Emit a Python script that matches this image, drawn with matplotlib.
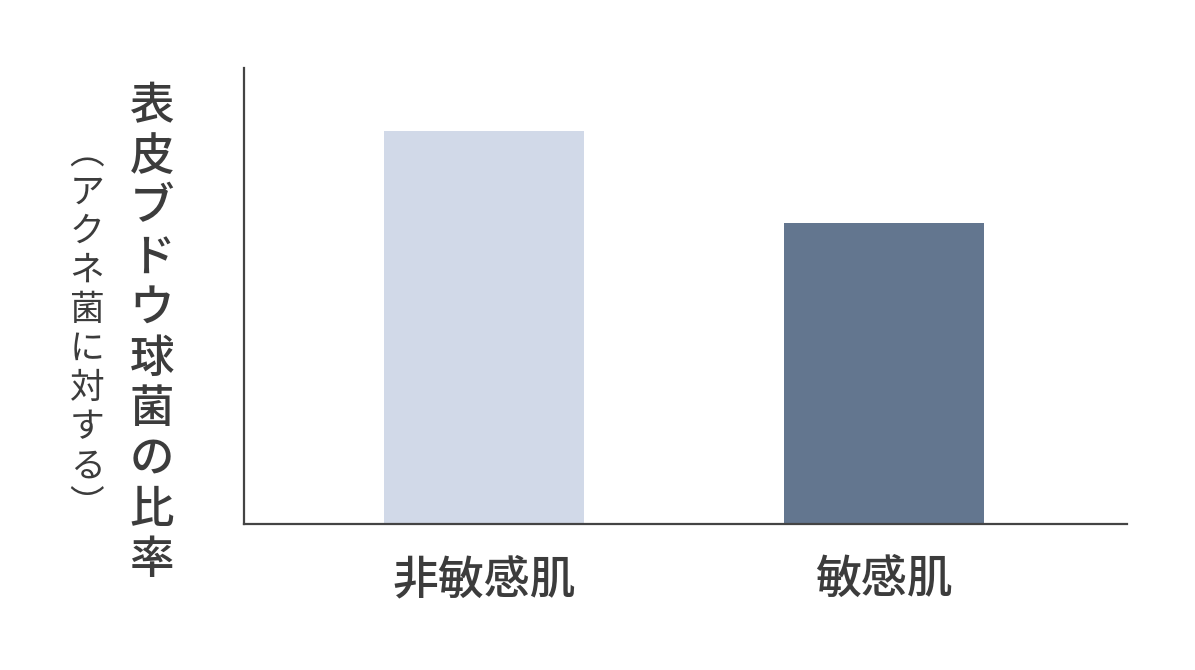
import matplotlib
matplotlib.use("Agg")
import matplotlib.pyplot as plt

plt.rcParams['font.family'] = ['Noto Sans CJK JP', 'DejaVu Sans']

# data
categories = ["非敏感肌", "敏感肌"]
values = [0.862, 0.660]
bar_colors = ["#d1d9e8", "#63768f"]
ylabel_main = "表皮ブドウ球菌の比率"
ylabel_sub = "︵アクネ菌に対する︶"

W, H = 1195, 670
text_color = "#3c3c3c"

fig = plt.figure(figsize=(W / 100, H / 100), dpi=100)
ax = fig.add_axes([244 / W, 1 - 524 / H, (1127 - 244) / W, (524 - 68) / H])

x = list(range(len(categories)))
ax.bar(x, values, width=0.5, color=bar_colors, zorder=1)
ax.set_xlim(-0.6, 1.6075)
ax.set_ylim(0, 1)

for side in ["top", "right"]:
    ax.spines[side].set_visible(False)
for side in ["left", "bottom"]:
    ax.spines[side].set_color("#444444")
    ax.spines[side].set_linewidth(1.6)
    ax.spines[side].set_zorder(3)

ax.set_yticks([])
ax.set_xticks(x)
ax.set_xticklabels(categories, fontsize=33, fontweight=500, color=text_color)
ax.tick_params(axis="x", length=0, pad=23)

# vertical y-axis label, one character per line
for i, ch in enumerate(ylabel_main):
    fig.text(152 / W, 1 - (107 + i * 50.4) / H, ch, fontsize=32, fontweight=500,
             color=text_color, ha="center", va="center")

for i, ch in enumerate(ylabel_sub):
    fig.text(87 / W, 1 - (154 + i * 39.1) / H, ch, fontsize=25,
             color=text_color, ha="center", va="center")

fig.savefig("out.png", dpi=100, facecolor="white")
